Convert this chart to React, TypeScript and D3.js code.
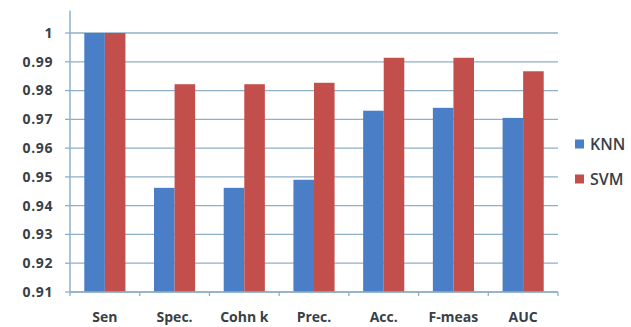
import React from "react";
import * as d3 from "d3";

const categories = ["Sen", "Spec.", "Cohn k", "Prec.", "Acc.", "F-meas", "AUC"];
const seriesNames = ["KNN", "SVM"];
const knnValues = [1.0, 0.9462, 0.9462, 0.949, 0.973, 0.974, 0.9705];
const svmValues = [1.0, 0.9822, 0.9822, 0.9827, 0.9914, 0.9914, 0.9867];
const yTicks = [0.91, 0.92, 0.93, 0.94, 0.95, 0.96, 0.97, 0.98, 0.99, 1];
const colors = ["#4a7ec6", "#c34f4c"];

export default function App() {
  const W = 631, H = 327;
  const left = 70, right = 558, top = 33, bottom = 292;
  const x = d3.scaleBand<string>().domain(categories).range([left, right]).paddingInner(0).paddingOuter(0);
  const y = d3.scaleLinear().domain([0.91, 1]).range([bottom, top]);
  const axisTop = y(1.0077);
  const groupW = x.bandwidth() * 0.59;
  const inner = d3.scaleBand<string>().domain(seriesNames).range([0, groupW]);
  const series = [knnValues, svmValues];
  const font = "'Open Sans', 'DejaVu Sans', sans-serif";
  const grid = "#8fb0c6";
  const txt = "#3a3f45";
  const boundaries = d3.range(categories.length + 1).map((i) => left + i * x.step());
  return (
    <svg width={W} height={H} style={{ position: "absolute", left: 0, top: 0 }}>
      <rect x={0} y={0} width={W} height={H} fill="#ffffff" />
      {yTicks.map((t) => (
        <g key={t}>
          <line x1={left} x2={right} y1={y(t)} y2={y(t)} stroke={grid} strokeWidth={1.3} />
          <line x1={left - 5} x2={left} y1={y(t)} y2={y(t)} stroke={grid} strokeWidth={1.3} />
          <text x={53} y={y(t)} dy="0.35em" textAnchor="end" fontFamily={font} fontSize={14} fontWeight={700} letterSpacing={0.6} fill={txt}>
            {String(t)}
          </text>
        </g>
      ))}
      {categories.map((c, i) =>
        series.map((vals, s) => {
          const bx = (x(c) as number) + (x.bandwidth() - groupW) / 2 + (inner(seriesNames[s]) as number);
          return (
            <rect key={c + s} x={bx} y={y(vals[i])} width={inner.bandwidth()} height={bottom - y(vals[i])} fill={colors[s]} />
          );
        })
      )}
      <line x1={left} x2={left} y1={axisTop} y2={bottom} stroke={grid} strokeWidth={1.5} />
      <line x1={left} x2={right} y1={bottom} y2={bottom} stroke={grid} strokeWidth={1.5} />
      {boundaries.map((bx, i) => (
        <line key={i} x1={bx} x2={bx} y1={bottom} y2={bottom + 4} stroke={grid} strokeWidth={1.3} />
      ))}
      {categories.map((c) => (
        <text key={c} x={(x(c) as number) + x.bandwidth() / 2} y={317} dy="0.35em" textAnchor="middle" fontFamily={font} fontSize={14} fontWeight={700} fill={txt}>
          {c}
        </text>
      ))}
      {seriesNames.map((n, i) => (
        <g key={n}>
          <rect x={575} y={139.5 + i * 35} width={9} height={9} fill={colors[i]} />
          <text x={590} y={144 + i * 35} dy="0.35em" fontFamily={font} fontSize={16} fontWeight={600} fill={txt}>
            {n}
          </text>
        </g>
      ))}
    </svg>
  );
}
